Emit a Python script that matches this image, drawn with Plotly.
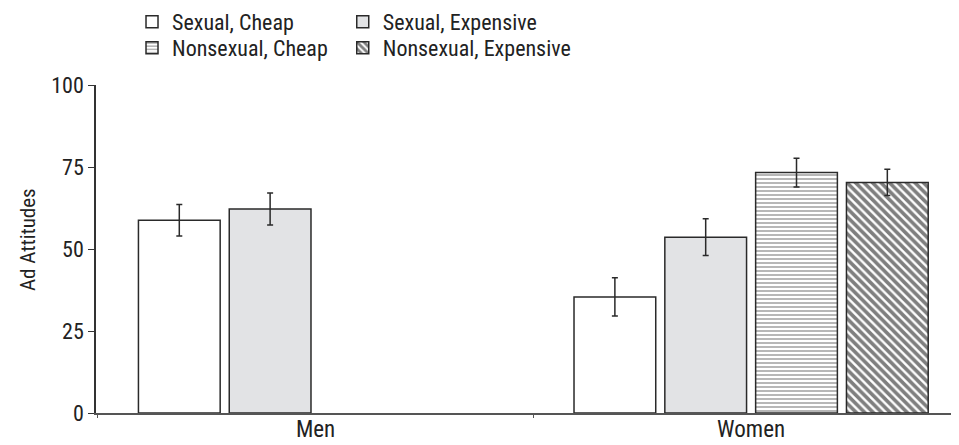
import plotly.graph_objects as go

groups = ["Men", "Women"]
series = ["Sexual, Cheap", "Sexual, Expensive", "Nonsexual, Cheap", "Nonsexual, Expensive"]
sexual_cheap = [58.8, 35.4]
sexual_cheap_err = [4.8, 5.8]
sexual_exp = [62.2, 53.6]
sexual_exp_err = [4.9, 5.6]
nonsexual_cheap = [None, 73.3]
nonsexual_cheap_err = [None, 4.4]
nonsexual_exp = [None, 70.3]
nonsexual_exp_err = [None, 4.0]

FONT = "Liberation Sans Narrow, Arial Narrow, Roboto Condensed, Liberation Sans, Arial, sans-serif"
LINE = "#2a2a2a"

styles = [
    dict(color="#ffffff", pattern=None, legend="legend"),
    dict(color="#e2e3e5", pattern=None, legend="legend2"),
    dict(color="#ffffff", pattern=dict(shape="-", fgcolor="#707070", bgcolor="#ffffff", size=4, solidity=0.5, fillmode="overlay"), legend="legend3"),
    dict(color="#ffffff", pattern=dict(shape="\\", fgcolor="#000000", bgcolor="#ffffff", size=6, solidity=0.6, fillmode="overlay"), legend="legend4"),
]
vals = [sexual_cheap, sexual_exp, nonsexual_cheap, nonsexual_exp]
errs = [sexual_cheap_err, sexual_exp_err, nonsexual_cheap_err, nonsexual_exp_err]

fig = go.Figure()
for name, v, e, st in zip(series, vals, errs, styles):
    marker = dict(color=st["color"], line=dict(color=LINE, width=1.5))
    if st["pattern"]:
        marker["pattern"] = st["pattern"]
    fig.add_trace(go.Bar(
        x=groups, y=v, name=name, marker=marker, legend=st["legend"], showlegend=True,
        error_y=dict(type="data", array=e, color=LINE, thickness=1.5, width=3),
    ))

leg_common = dict(xanchor="left", yanchor="middle", xref="container", yref="container",
                  bgcolor="rgba(0,0,0,0)", font=dict(size=22), itemwidth=30, visible=True)
col1, col2 = 0.1304, 0.352
row1, row2 = 0.968, 0.9085

fig.update_layout(
    width=951, height=437,
    margin=dict(l=88, r=1, t=77, b=32, autoexpand=False),
    plot_bgcolor="white", paper_bgcolor="white",
    showlegend=True,
    barmode="group", bargap=0.166, bargroupgap=0.1,
    font=dict(family=FONT, size=21, color="#222222"),
    legend=dict(x=col1, y=row1, **leg_common),
    legend2=dict(x=col2, y=row1, **leg_common),
    legend3=dict(x=col1, y=row2, **leg_common),
    legend4=dict(x=col2, y=row2, **leg_common),
    xaxis=dict(type="category", range=[-0.504, 1.475], showline=True, linecolor="#555555", linewidth=1.5,
               ticks="outside", tickson="boundaries", ticklen=3, tickcolor="#555555", automargin=False,
               ticklabelstandoff=-5,
               showgrid=False, zeroline=False, tickfont=dict(size=23)),
    yaxis=dict(range=[0, 100], tickvals=[0, 25, 50, 75, 100], showline=True, linecolor="#333333", linewidth=1.5,
               ticks="outside", ticklen=6, tickcolor="#333333", showgrid=False, zeroline=False, automargin=False,
               tickfont=dict(size=22)),
    annotations=[dict(text="Ad Attitudes", xref="paper", yref="paper", x=-0.079, y=0.53,
                      xanchor="center", yanchor="middle", textangle=-90, showarrow=False,
                      font=dict(size=21))],
)

fig.write_html("out.html")
